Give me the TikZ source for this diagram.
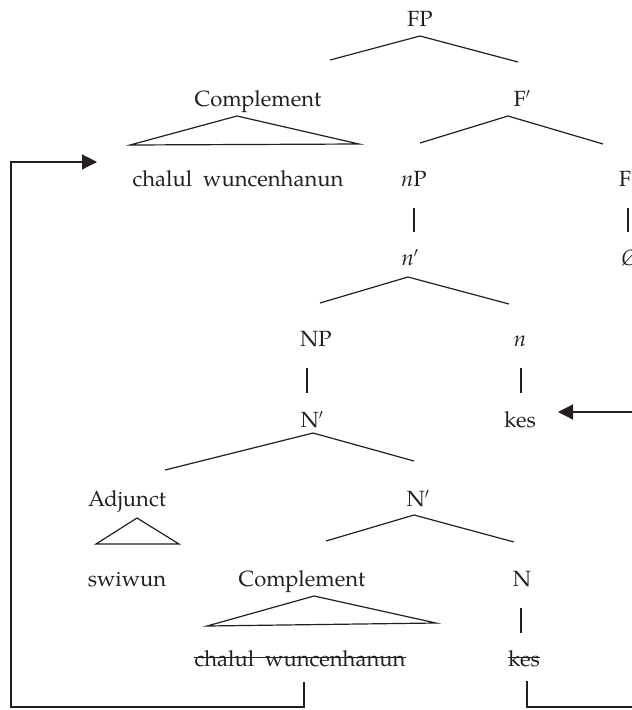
\documentclass[tikz,border=0pt]{standalone}
\usepackage{fontspec}
\setmainfont{TeX Gyre Pagella}
\usetikzlibrary{arrows.meta}
\definecolor{ink}{HTML}{231F20}
\begin{document}
\begin{tikzpicture}[x=1pt,y=-1pt,
  lab/.style={inner sep=0pt,anchor=base,text=ink,font=\fontsize{22}{26}\selectfont},
  edge/.style={draw=ink,line width=1.2pt},
  arr/.style={edge,-{Triangle[length=15pt,width=15pt]}}]
\useasboundingbox (0,0) rectangle (632,710);
\clip (0,0) rectangle (632,710);
% labels
\node[lab] (FP) at (420,26) {FP};
\node[lab] (compA) at (258,106) {Complement};
\node[lab] (Fbar) at (522,106) {F$'$};
\node[lab] (chalA) at (238,186) {chalul\hspace{0.5em}wuncenhanun};
\node[lab] (nP) at (414,186) {\textit{n}P};
\node[lab] (F) at (625,186) {F};
\node[lab] (nbar) at (410,265) {\textit{n}$'$};
\node[lab] (nul) at (630,265) {\textit{Ø}};
\node[lab] (NP) at (316,346) {NP};
\node[lab] (nsm) at (520,346) {\textit{n}};
\node[lab] (NbA) at (312,427) {N$'$};
\node[lab] (kesA) at (520,427) {kes};
\node[lab] (adj) at (127,506) {Adjunct};
\node[lab] (NbB) at (418,506) {N$'$};
\node[lab] (swi) at (127,586) {swiwun};
\node[lab] (compB) at (302,586) {Complement};
\node[lab] (N) at (522,586) {N};
\node[lab] (chalB) at (300,666) {chalul\hspace{0.5em}wuncenhanun};
\node[lab] (kesB) at (524,666) {kes};
% strike-through
\draw[edge,line width=1pt] ([yshift=9pt]chalB.base west) -- ([yshift=9pt]chalB.base east);
\draw[edge,line width=1pt] ([yshift=9pt]kesB.base west) -- ([yshift=9pt]kesB.base east);
% branch points
\coordinate (fp0) at (420,36); \coordinate (fp1) at (330,60); \coordinate (fp2) at (518,62);
\coordinate (fb0) at (508,116); \coordinate (fb1) at (420,143); \coordinate (fb2) at (603,144);
\coordinate (nb0) at (408,277); \coordinate (nb1) at (320,303); \coordinate (nb2) at (509,304);
\coordinate (Na0) at (313,433); \coordinate (Na1) at (165,470); \coordinate (Na2) at (414,461);
\coordinate (Nb0) at (414,515); \coordinate (Nb1) at (326,541); \coordinate (Nb2) at (514,542);
\draw[edge] (fp1) -- (fp0) -- (fp2);
\draw[edge] (fb1) -- (fb0) -- (fb2);
\draw[edge] (nb1) -- (nb0) -- (nb2);
\draw[edge] (Na1) -- (Na0) -- (Na2);
\draw[edge] (Nb1) -- (Nb0) -- (Nb2);
% triangles
\coordinate (tA0) at (237,116); \coordinate (tA1) at (130,145); \coordinate (tA2) at (359,144);
\coordinate (tB0) at (137,518); \coordinate (tB1) at (96,544); \coordinate (tB2) at (179,544);
\coordinate (tC0) at (314,596); \coordinate (tC1) at (207,626); \coordinate (tC2) at (436,623);
\draw[edge,line join=miter] (tA1) -- (tA0) -- (tA2) -- cycle;
\draw[edge,line join=miter] (tB1) -- (tB0) -- (tB2) -- cycle;
\draw[edge,line join=miter] (tC1) -- (tC0) -- (tC2) -- cycle;
% unary bars
\draw[edge] (414,208) coordinate (b1t) -- (414,232) coordinate (b1b);
\draw[edge] (628,208) coordinate (b2t) -- (628,232) coordinate (b2b);
\draw[edge] (307,368) coordinate (b3t) -- (307,393) coordinate (b3b);
\draw[edge] (521,368) coordinate (b4t) -- (521,393) coordinate (b4b);
\draw[edge] (521,608) coordinate (b5t) -- (521,633) coordinate (b5b);
% movement arrows
\coordinate (m1a) at (304,682); \coordinate (m1b) at (304,707);
\coordinate (m1c) at (11,707); \coordinate (m1d) at (11,162);
\coordinate (m1t) at (97,162);
\draw[arr] (m1a) -- (m1b) -- (m1c) -- (m1d) -- (m1t);
\coordinate (m2a) at (527,681); \coordinate (m2b) at (527,707);
\coordinate (m2c) at (660,707); \coordinate (m2d) at (660,412);
\coordinate (m2t) at (558,412);
\draw[arr] (m2a) -- (m2b) -- (m2c) -- (m2d) -- (m2t);
\end{tikzpicture}
\end{document}
